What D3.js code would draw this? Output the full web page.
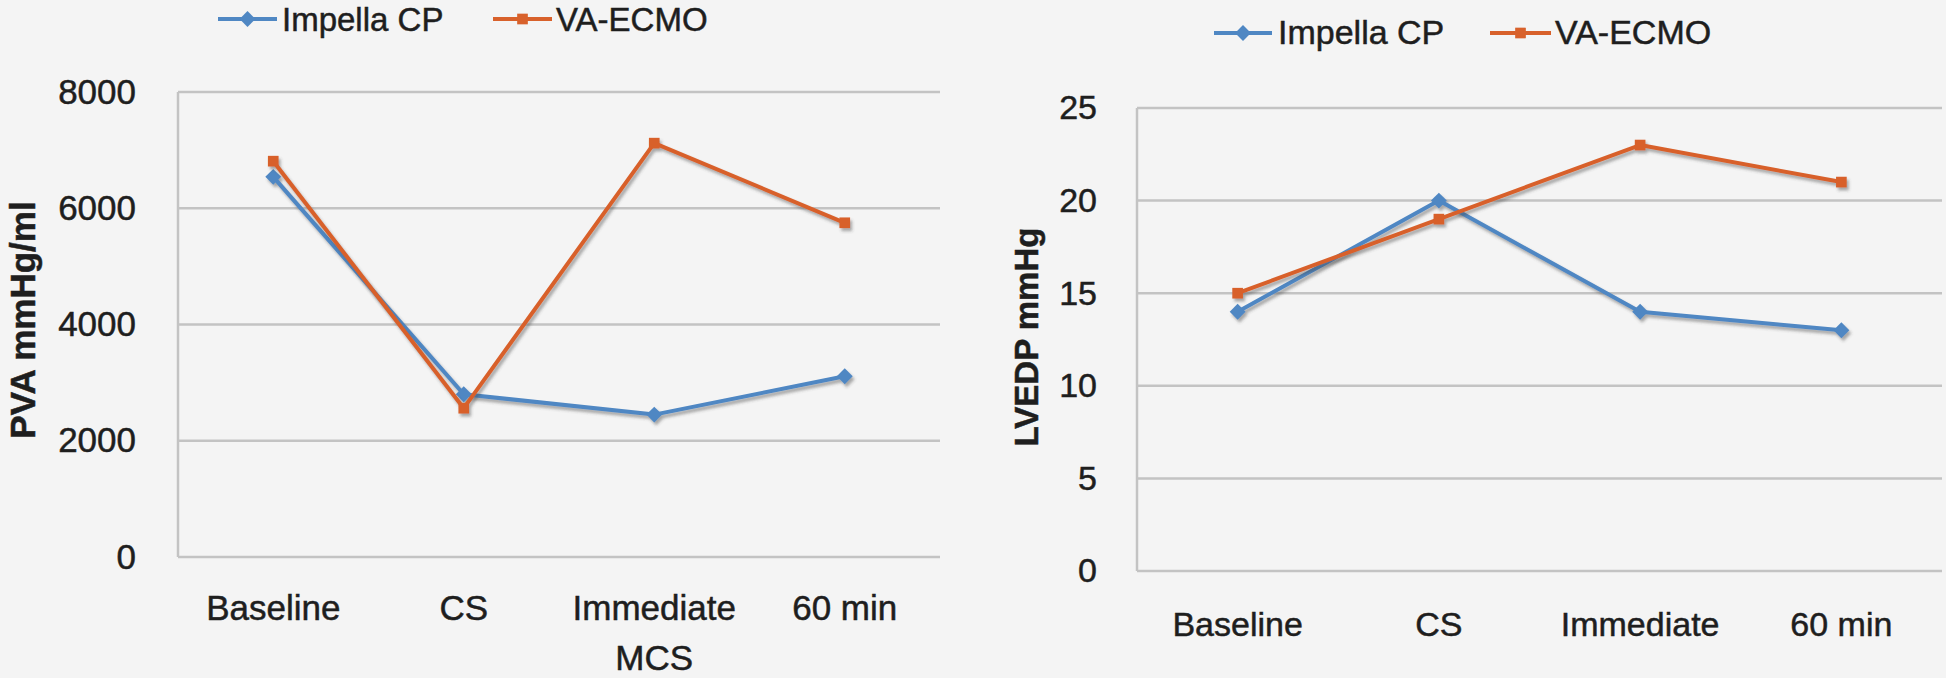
<!DOCTYPE html>
<html>
<head>
<meta charset="utf-8">
<script src="https://cdn.jsdelivr.net/npm/d3@7"></script>
<style>
  html, body { margin: 0; padding: 0; background: #f4f4f4; }
  svg { display: block; }
  text { font-family: "Liberation Sans", Arial, sans-serif; fill: #1e1e1e; stroke: #1e1e1e; stroke-width: 0.5px; }
</style>
</head>
<body>
<svg id="chart" width="1946" height="678"></svg>
<script>
// ---- data ----
const seriesNames = ["Impella CP", "VA-ECMO"];
const pvaCategories = ["Baseline", "CS", "Immediate MCS", "60 min"];
const pvaImpella = [6540, 2800, 2450, 3110];
const pvaEcmo = [6810, 2560, 7120, 5750];
const pvaTicks = [0, 2000, 4000, 6000, 8000];

const lvedpCategories = ["Baseline", "CS", "Immediate", "60 min"];
const lvedpImpella = [14, 20, 14, 13];
const lvedpEcmo = [15, 19, 23, 21];
const lvedpTicks = [0, 5, 10, 15, 20, 25];

// ---- styles ----
const colors = ["#4f87c3", "#d8612b"];
const gridColor = "#c3c3c3";

const svg = d3.select("#chart");
svg.append("rect").attr("width", 1946).attr("height", 678).attr("fill", "#f4f4f4");

const defs = svg.append("defs");
const f = defs.append("filter").attr("id", "shadow")
  .attr("x", "-20%").attr("y", "-20%").attr("width", "140%").attr("height", "140%");
f.append("feDropShadow").attr("dx", 2).attr("dy", 3).attr("stdDeviation", 1.6)
  .attr("flood-color", "#444").attr("flood-opacity", 0.45);

const diamond = d3.symbol().type(d3.symbolDiamond2).size(160);
const square = d3.symbol().type(d3.symbolSquare2).size(145);
const symbols = [diamond, square];

function drawChart(cfg) {
  const g = svg.append("g");
  const x = d3.scaleBand().domain(cfg.categories).range([cfg.x0, cfg.x1]);
  const y = d3.scaleLinear().domain([0, cfg.max]).range([cfg.y0, cfg.y1]);

  // gridlines
  g.append("g").selectAll("line").data(cfg.ticks).join("line")
    .attr("x1", cfg.x0).attr("x2", cfg.x1)
    .attr("y1", d => y(d)).attr("y2", d => y(d))
    .attr("stroke", gridColor).attr("stroke-width", 2.5);
  // vertical axis line
  g.append("line").attr("x1", cfg.x0).attr("x2", cfg.x0)
    .attr("y1", y(cfg.max)).attr("y2", y(0))
    .attr("stroke", gridColor).attr("stroke-width", 2.5);

  // y axis labels
  const ya = g.append("g").attr("transform", `translate(${cfg.x0},0)`)
    .call(d3.axisLeft(y).tickValues(cfg.ticks).tickSize(0).tickPadding(cfg.tickPad).tickFormat(d3.format("d")));
  ya.select(".domain").remove();
  ya.selectAll("text").style("font-size", cfg.tickFont + "px").attr("fill", "#1e1e1e")
    .style("font-family", '"Liberation Sans", Arial, sans-serif');

  // x axis labels
  const xa = g.append("g").attr("transform", `translate(0,${cfg.y0})`)
    .call(d3.axisBottom(x).tickSize(0).tickPadding(0));
  xa.select(".domain").remove();
  xa.selectAll("text").each(function(d) {
    const t = d3.select(this);
    t.text(null).attr("y", 0).attr("dy", null)
      .style("font-size", cfg.catFont + "px").attr("fill", "#1e1e1e")
      .style("font-family", '"Liberation Sans", Arial, sans-serif');
    if (d === "Immediate MCS") {
      t.append("tspan").attr("x", 0).attr("y", cfg.catDy).text("Immediate");
      t.append("tspan").attr("x", 0).attr("y", cfg.catDy + 50).text("MCS");
    } else {
      t.append("tspan").attr("x", 0).attr("y", cfg.catDy).text(d);
    }
  });

  // y title
  g.append("text")
    .attr("transform", `translate(${cfg.titleX},${cfg.titleY}) rotate(-90)`)
    .attr("text-anchor", "middle")
    .style("font-size", cfg.titleFont + "px").style("font-weight", "bold")
    .text(cfg.title);

  // series
  const line = d3.line().x((d, i) => x(cfg.categories[i]) + x.bandwidth() / 2).y(d => y(d));
  cfg.series.forEach((vals, si) => {
    const sg = g.append("g").attr("filter", "url(#shadow)");
    sg.append("path").datum(vals).attr("d", line)
      .attr("fill", "none").attr("stroke", colors[si]).attr("stroke-width", 4)
      .attr("stroke-linejoin", "round");
    sg.selectAll("path.m").data(vals).join("path").attr("class", "m")
      .attr("transform", (d, i) => `translate(${x(cfg.categories[i]) + x.bandwidth() / 2},${y(d)})`)
      .attr("d", symbols[si]()).attr("fill", colors[si]);
  });

  // legend
  const lg = g.append("g");
  cfg.legend.forEach((L, si) => {
    lg.append("line").attr("x1", L.lx0).attr("x2", L.lx1).attr("y1", cfg.legY).attr("y2", cfg.legY)
      .attr("stroke", colors[si]).attr("stroke-width", 4);
    lg.append("path").attr("transform", `translate(${(L.lx0 + L.lx1) / 2},${cfg.legY})`)
      .attr("d", symbols[si]()).attr("fill", colors[si]);
    lg.append("text").attr("x", L.tx).attr("y", cfg.legY + cfg.legDy)
      .style("font-size", cfg.legFont + "px").text(seriesNames[si]);
  });
}

drawChart({
  categories: pvaCategories, series: [pvaImpella, pvaEcmo], ticks: pvaTicks, max: 8000,
  x0: 178, x1: 940, y0: 557, y1: 92,
  tickPad: 42, tickFont: 35, catFont: 35, catDy: 63,
  title: "PVA mmHg/ml", titleX: 35, titleY: 320, titleFont: 35,
  legY: 19, legDy: 12, legFont: 33,
  legend: [{lx0: 218, lx1: 277, tx: 282}, {lx0: 493, lx1: 552, tx: 556}]
});

drawChart({
  categories: lvedpCategories, series: [lvedpImpella, lvedpEcmo], ticks: lvedpTicks, max: 25,
  x0: 1137, x1: 1942, y0: 571, y1: 108,
  tickPad: 40, tickFont: 34, catFont: 34, catDy: 65,
  title: "LVEDP mmHg", titleX: 1038, titleY: 337, titleFont: 33,
  legY: 33, legDy: 11, legFont: 34,
  legend: [{lx0: 1214, lx1: 1272, tx: 1278}, {lx0: 1490, lx1: 1551, tx: 1555}]
});
</script>
</body>
</html>
